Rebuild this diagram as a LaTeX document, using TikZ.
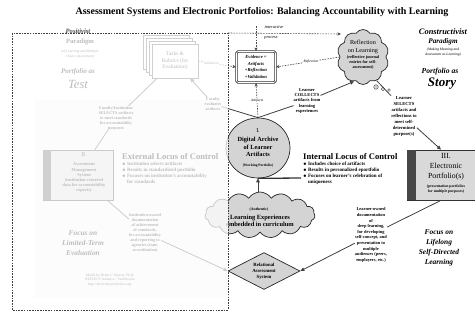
\documentclass[tikz,border=0pt]{standalone}
\usepackage{fontspec}
\setmainfont{Liberation Serif}
\usetikzlibrary{shapes.geometric,shapes.symbols,arrows.meta}
\begin{document}
\begin{tikzpicture}[x=1pt,y=-1pt,
  every node/.style={inner sep=0pt,align=center},
  gshape/.style={fill=black!17,draw=black!85,line width=0.7pt},
  link/.style={draw=black!75,line width=0.8pt},
  tip/.style={-{Triangle[length=4pt,width=3.6pt]}},
  dlink/.style={draw=black!70,line width=0.6pt,dash pattern=on 1.6pt off 1.1pt,-{Stealth[length=3.6pt,width=3.2pt]}},
  lbl/.style={font=\fontsize{3.6}{4.2}\selectfont\itshape,fill=white,inner sep=0.6pt},
  note/.style={font=\fontsize{4.4}{5.5}\selectfont\bfseries},
  head/.style={font=\fontsize{8.6}{10}\selectfont\bfseries},
  focus/.style={font=\fontsize{7.4}{9.8}\selectfont\bfseries\itshape},
  small/.style={font=\fontsize{3.8}{4.6}\selectfont\bfseries},
]
\useasboundingbox (0,0) rectangle (475,322);
\fill[white] (0,0) rectangle (475,322);

% ---------- title ----------
\node (title) at (262,12) {\fontsize{10}{11}\selectfont\bfseries Assessment Systems and Electronic Portfolios: Balancing Accountability with Learning};

% ---------- positivist half (later washed out) ----------
\fill[black!4] (34,100) rectangle (228,298);
\node[font=\fontsize{6.6}{8}\selectfont\bfseries] (pparadigm) at (80,42) {Paradigm};
\node[font=\fontsize{3.6}{4.3}\selectfont\itshape] (pmeasure) at (80,54) {(of Learning and Multiple\\Choice Assessment)};
\node[font=\fontsize{7}{8}\selectfont\bfseries\itshape] (ptest1) at (78,72) {Portfolio as};
\node[font=\fontsize{12.5}{14}\selectfont\itshape] (ptest2) at (78,84) {Test};

% stacked task pages
\foreach \d in {9,6,3}
  \draw[black!70,fill=white,line width=0.6pt] (152-\d,44-\d) rectangle (198-\d,78-\d);
\node[draw=black!70,fill=white,line width=0.6pt,minimum width=46pt,minimum height=34pt,
      font=\fontsize{5.4}{6.4}\selectfont] (tasks) at (175,61) {Tasks \&\\Rubrics (for\\Evaluation)};

\node[note,font=\fontsize{4.2}{5}\selectfont\bfseries] (facsel) at (116,118)
  {Faculty/Institution\\SELECTS artifacts\\to meet standards\\for accountability\\purposes};
\node[note,font=\fontsize{4.2}{5}\selectfont\bfseries] (faceval) at (213,104) {Faculty\\evaluates\\artifacts};

% assessment management system
\node[draw=black!80,fill=black!14,line width=0.6pt,minimum width=70pt,minimum height=50pt] (ams) at (78,175) {};
\fill[black!70] (ams.north west) rectangle ([xshift=8pt]ams.south west);
\node[font=\fontsize{6}{7}\selectfont] (amsnum) at (84,155) {II.};
\node[small,font=\fontsize{4.4}{5.2}\selectfont\bfseries] (amstext) at (84,178)
  {Assessment\\Management\\System\\(institution-centered\\data for accountability\\reports)};

\node[head,anchor=west] (extloc) at (122,157) {External Locus of Control};
\node[note,anchor=north west,align=left,font=\fontsize{4.9}{5.8}\selectfont\bfseries] (extlist) at (122,162)
  {$\bullet$ Institution selects artifacts\\$\bullet$ Results in standardized portfolio\\$\bullet$ Focuses on institution's accountability\\\hphantom{$\bullet$ }for standards};

\node[focus] (pfocus) at (83,243) {Focus on\\Limited-Term\\Evaluation};
\node[note,font=\fontsize{4.2}{5.1}\selectfont\bfseries] (instowned) at (145,233)
  {Institution-owned\\documentation\\of achievement\\of standards,\\for accountability\\and reporting to\\agencies (state,\\accreditation)};
\node[font=\fontsize{3.6}{4.4}\selectfont] (credit) at (110,280)
  {Model by Helen C. Barrett, Ph.D.\\REFLECT Initiative / TaskStream\\http://electronicportfolios.org/};

\draw[link] (tasks) -- (facsel);
\draw[link] (facsel) -- (ams);
\draw[link] (ams) -- (instowned);

% ---------- centre ----------
\node[gshape,ellipse,minimum width=64pt,minimum height=60pt] (archive) at (258,148) {};
\node[font=\fontsize{6}{7}\selectfont] (archnum) at (258,131) {I.};
\node[font=\fontsize{6.3}{7.6}\selectfont\bfseries] (archtext) at (258,147) {Digital Archive\\of Learner\\Artifacts};
\node[small,font=\fontsize{3.6}{4.4}\selectfont\bfseries] (archsub) at (258,166) {(Working Portfolio)};
\coordinate (barend) at (301,178);
\draw[black!80,line width=1.3pt] (archive.south) -- (barend);

\node[gshape,cloud,cloud puffs=15,cloud puff arc=115,aspect=2.4,minimum width=110pt,minimum height=46pt] (authentic) at (260,215) {};
\node[small] (authsmall) at (259,210) {(Authentic)};
\node[font=\fontsize{6.4}{7.6}\selectfont\bfseries] (authtext) at (260,221) {Learning Experiences\\embedded in curriculum};
\draw[link,tip] (authentic.north -| archive.south) -- (archive.south);

\node[gshape,diamond,aspect=2,minimum width=72pt,minimum height=37pt] (system) at (264,271) {};
\node[note,font=\fontsize{4.8}{6}\selectfont\bfseries] (systext) at (264,271) {Relational\\Assessment\\System};
\draw[link,tip] (instowned) -- (system.west);

\node[draw=black!80,line width=0.9pt,double,double distance=0.6pt,rounded corners=1.5pt,fill=white,
      minimum width=39pt,minimum height=31pt,font=\fontsize{4.6}{6.8}\selectfont\bfseries\itshape] (evidence) at (256,67)
  {Evidence =\\Artifacts\\+Reflection\\+Validation};

\draw[link] (archive.north) -- (faceval);
\draw[link,tip] (faceval) -- (tasks);
\draw[dlink] (archive.north) -- node[lbl] {Artifacts} (evidence.south);
\draw[dlink] (tasks.east) -- node[lbl,pos=0.35] {Validation} (evidence.west);

% ---------- constructivist half ----------
\node[font=\fontsize{8.4}{9}\selectfont\bfseries\itshape] (constr) at (443,32) {Constructivist};
\node[font=\fontsize{7.2}{8}\selectfont\bfseries\itshape] (cparadigm) at (443,42) {Paradigm};
\node[font=\fontsize{3.6}{4.3}\selectfont\itshape] (cmeaning) at (443,52) {(Making Meaning and\\Assessment as Learning)};
\node[font=\fontsize{7.6}{8.6}\selectfont\bfseries\itshape] (story1) at (440,72) {Portfolio as};
\node[font=\fontsize{13}{14}\selectfont\bfseries\itshape] (story2) at (442,84) {Story};

\node[gshape,cloud,cloud puffs=10,cloud puff arc=115,aspect=0.95,minimum width=52pt,minimum height=55pt] (reflect) at (363,57) {};
\node[font=\fontsize{6.2}{7.6}\selectfont] (refltext) at (363,47) {Reflection\\on Learning};
\node[small,font=\fontsize{4.2}{5}\selectfont\bfseries] (reflsub) at (363,62) {(reflective journal\\entries for self-\\assessment)};
\fill[black!18,draw=black!70,line width=0.4pt] (376,87) circle (2.3pt);
\fill[black!12,draw=black!70,line width=0.4pt] (383,89) circle (1.8pt);
\fill[black!8,draw=black!70,line width=0.4pt] (389,90) circle (1.4pt);

\node[note,font=\fontsize{4.5}{5.2}\selectfont\bfseries] (collect) at (307,101)
  {Learner\\COLLECTS\\artifacts from\\learning\\experiences};
\draw[link] (archive.north) -- (collect);
\draw[link,tip] (collect) -- (reflect.250);

\node[note,font=\fontsize{4.6}{6}\selectfont\bfseries] (selects) at (404,116)
  {Learner\\SELECTS\\artifacts and\\reflections to\\meet self-\\determined\\purpose(s)};
\draw[link] (reflect.300) -- (selects.north west);

\node[draw=black!80,fill=black!15,line width=0.7pt,minimum width=68pt,minimum height=50pt] (eport) at (441,175) {};
\fill[black!72] (eport.north west) rectangle ([xshift=9pt]eport.south west);
\node[font=\fontsize{7.8}{10}\selectfont] (eporttext) at (446,167) {III.\\Electronic\\Portfolio(s)};
\node[small] (eportsub) at (446,189) {(presentation portfolios\\for multiple purposes)};
\draw[link,tip] (selects) -- (eport.north);

\node[head,anchor=west] (intloc) at (303,157) {Internal Locus of Control};
\node[note,anchor=north west,align=left,font=\fontsize{5}{5.8}\selectfont\bfseries] (intlist) at (303,162)
  {$\bullet$ Includes choice of artifacts\\$\bullet$ Results in personalized eportfolio\\$\bullet$ Focuses on learner's celebration of\\\hphantom{$\bullet$ }uniqueness};

\node[note,font=\fontsize{4.4}{5.6}\selectfont\bfseries] (owned) at (371,235)
  {Learner-owned\\documentation\\of\\deep learning,\\for developing\\self-concept, and\\presentation to\\multiple\\audiences (peers,\\employers, etc.)};
\draw[link] (eport.south) -- (owned);
\draw[link,tip] (owned) -- (system.east);

\node[focus] (cfocus) at (439,248) {Focus on\\Lifelong\\Self-Directed\\Learning};

\draw[dlink] (reflect.west) -- node[lbl,pos=0.45] {Reflection} (evidence.east);

% ---------- wash over the positivist half ----------
\fill[white,opacity=0.74] (12,33) rectangle (228,310);
\draw[black!75,line width=0.7pt,dash pattern=on 1.6pt off 1.1pt] (12,33) rectangle (228,310);
\node[font=\fontsize{6.6}{8}\selectfont\bfseries\itshape,text=black!70] (positivist) at (78,31) {Positivist};

% interactive process loop
\coordinate (topstart) at (228,33);
\coordinate (topend) at (341,34);
\coordinate (ipstart) at (256,26);
\draw[dlink] (topstart) -- (topend);
\draw[dlink] (ipstart) -- (evidence.north);
\node[font=\fontsize{4.4}{5}\selectfont\itshape] (iptext1) at (274,27) {interactive};
\node[font=\fontsize{4.4}{5}\selectfont\itshape] (iptext2) at (271,38) {process};
\end{tikzpicture}
\end{document}
